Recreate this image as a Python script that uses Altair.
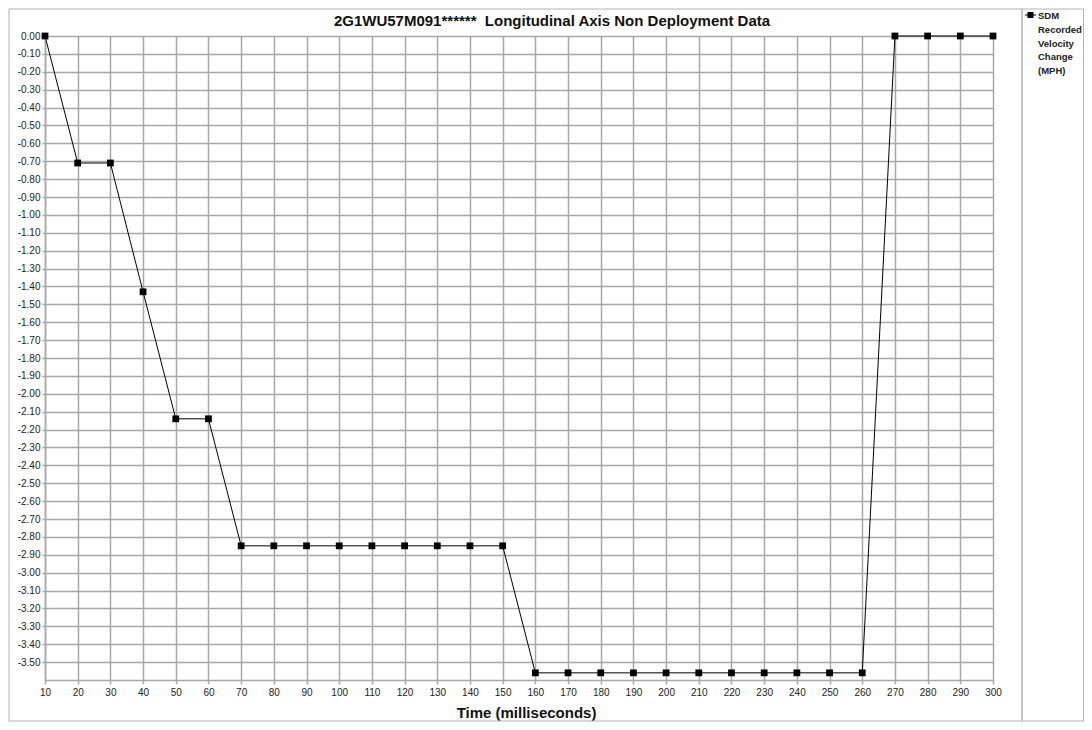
import altair as alt
import pandas as pd

times = [10, 20, 30, 40, 50, 60, 70, 80, 90, 100, 110, 120, 130, 140, 150,
         160, 170, 180, 190, 200, 210, 220, 230, 240, 250, 260, 270, 280, 290, 300]
velocity = [0.00, -0.71, -0.71, -1.43, -2.14, -2.14, -2.85, -2.85, -2.85, -2.85,
            -2.85, -2.85, -2.85, -2.85, -2.85, -3.56, -3.56, -3.56, -3.56, -3.56,
            -3.56, -3.56, -3.56, -3.56, -3.56, -3.56, 0.00, 0.00, 0.00, 0.00]
series_name = "SDM Recorded Velocity Change (MPH)"
chart_title = "2G1WU57M091******\u00a0 Longitudinal Axis Non Deployment Data"
x_ticks = list(range(10, 301, 10))
y_ticks = [round(-0.1 * i, 2) for i in range(0, 36)]

df = pd.DataFrame({"time": times, "value": velocity, "series": series_name})

FONT = "Liberation Sans"
W, H = 948, 644

x_axis = alt.Axis(values=x_ticks, title="Time (milliseconds)",
                  format="d", labelFlush=False, labelOverlap=False, titleX=481,
                  titlePadding=8, titleFontSize=15,
                  titleFontWeight="bold", titleColor="#111",
                  tickSize=4, labelPadding=3)
y_axis = alt.Axis(values=y_ticks, title=None, labelOverlap=False,
                  labelExpr="(datum.value < -0.001 ? '-' : '') + format(abs(datum.value), '.2f')",
                  tickSize=3, labelPadding=2)
x_scale = alt.Scale(domain=[10, 300], nice=False, zero=False)
y_scale = alt.Scale(domain=[-3.6, 0], nice=False, zero=False)

line = alt.Chart(df).mark_line(color="black", strokeWidth=1).encode(
    x=alt.X("time:Q", scale=x_scale, axis=x_axis),
    y=alt.Y("value:Q", scale=y_scale, axis=y_axis))

points = alt.Chart(df).mark_point(shape="square", filled=True, size=46,
                                  opacity=1).encode(
    x=alt.X("time:Q", scale=x_scale, axis=x_axis),
    y=alt.Y("value:Q", scale=y_scale, axis=y_axis),
    color=alt.Color("series:N",
                    scale=alt.Scale(range=["black"]),
                    legend=alt.Legend(
                        title=None, orient="none", legendX=980, legendY=-30.5,
                        symbolType="M-1,0.64H1V0.82H-1Z M-0.545,0.18H0.545V1.27H-0.545Z",
                        symbolSize=121, symbolStrokeWidth=0,
                        labelExpr="['SDM','Recorded','Velocity','Change','(MPH)']",
                        labelFont=FONT, labelFontSize=9.5, labelFontWeight="bold",
                        labelColor="#222", labelBaseline="top", labelOffset=2,
                        labelLimit=200, padding=0)))

frame_df = pd.DataFrame({"k": [0]})
frame_main = alt.Chart(frame_df).mark_rect(fillOpacity=0, stroke="#b4b4b4",
                                           strokeWidth=1).encode(
    x=alt.value(-36), x2=alt.value(977), y=alt.value(-27), y2=alt.value(685))
frame_legend = alt.Chart(frame_df).mark_rect(fillOpacity=0, stroke="#b4b4b4",
                                             strokeWidth=1).encode(
    x=alt.value(977), x2=alt.value(1038.5), y=alt.value(-27), y2=alt.value(685))

title_df = pd.DataFrame({"t": [chart_title]})
title_mark = alt.Chart(title_df).mark_text(
    font=FONT, fontSize=15, fontWeight="bold", color="#111",
    align="center", baseline="alphabetic").encode(
    text="t:N", x=alt.value(507), y=alt.value(-10))

chart = alt.layer(frame_main, frame_legend, line, points, title_mark).properties(
    width=W, height=H,
    autosize=alt.AutoSizeParams(type="none"),
    padding={"left": 37, "top": 28, "right": 91, "bottom": 42},
).configure(
    style={"guide-label": {"lineHeight": 13.75}}
).configure_view(stroke=None).configure_axis(
    gridColor="#a8a8a8", gridWidth=1.5, domainColor="#a8a8a8", domainWidth=1.5,
    tickColor="#a8a8a8", tickWidth=1.5,
    labelFont=FONT, labelFontSize=10, labelColor="#222", titleFont=FONT,
)

chart.save("out.html", embed_options={"renderer": "svg", "actions": False})
